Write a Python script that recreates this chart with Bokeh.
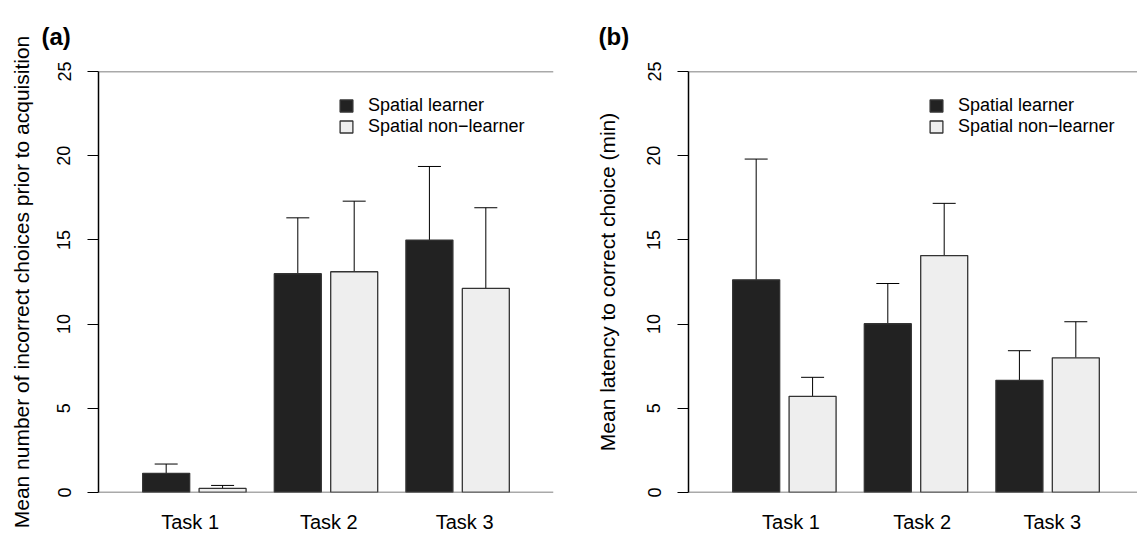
from bokeh.plotting import figure
from bokeh.models import (ColumnDataSource, Span, Whisker, TeeHead, Legend, LegendItem,
                          FixedTicker, Range1d, CustomJSTickFormatter)
from bokeh.layouts import row
from bokeh.embed import file_html
from bokeh.resources import INLINE

# ---- data -------------------------------------------------------------
tasks = ["Task 1", "Task 2", "Task 3"]
groups = ["Spatial learner", "Spatial non\u2212learner"]
y_ticks = [0, 5, 10, 15, 20, 25]

a_learner = [1.14, 12.99, 14.99]
a_learner_se = [0.55, 3.32, 4.37]
a_nonlearner = [0.24, 13.11, 12.12]
a_nonlearner_se = [0.18, 4.19, 4.79]

b_learner = [12.63, 10.02, 6.66]
b_learner_se = [7.17, 2.39, 1.76]
b_nonlearner = [5.71, 14.07, 8.00]
b_nonlearner_se = [1.13, 3.10, 2.14]

# positions of the task labels on the x scale (as drawn in the original)
a_label_pos = [1.61, 4.56, 7.45]
b_label_pos = [1.84, 4.63, 7.40]

a_ylab = "Mean number of incorrect choices prior to acquisition"
b_ylab = "Mean latency to correct choice (min)"

# ---- styling -----------------------------------------------------------
FONT = "Liberation Sans"
DARK = "#222222"
LIGHT = "#eeeeee"
EDGE = "#333333"

LEFT = 98
FRAME_W = 455
FRAME_H = 422
X0, X1 = -0.34, 9.34
TOP, BOTTOM = 71, 42
H = TOP + FRAME_H + BOTTOM


def panel(tag, learner, learner_se, nonlearner, nonlearner_se, label_pos, ylab,
          width, right_border, tag_dx, tick_standoff, ylab_standoff):
    fw = width - LEFT - right_border
    x_end = X0 + (X1 - X0) * fw / FRAME_W
    p = figure(width=width, height=H, output_backend="svg", toolbar_location=None,
               x_range=Range1d(X0, x_end), y_range=Range1d(0, 25),
               min_border_left=LEFT, min_border_right=right_border,
               min_border_top=TOP, min_border_bottom=BOTTOM)
    p.outline_line_color = None
    p.grid.visible = False

    # panel tag as title
    p.title.text = tag
    p.title.align = "left"
    p.title.vertical_align = "top"
    p.title.offset = tag_dx
    p.title.standoff = 40
    p.title.text_font = FONT
    p.title.text_font_size = "24px"
    p.title.text_font_style = "bold"
    p.title.text_color = "black"

    n = len(tasks)
    xl = [1.1 + 2.8 * i for i in range(n)]
    xn = [2.3 + 2.8 * i for i in range(n)]
    src_l = ColumnDataSource(dict(x=xl, top=learner,
                                  upper=[m + s for m, s in zip(learner, learner_se)]))
    src_n = ColumnDataSource(dict(x=xn, top=nonlearner,
                                  upper=[m + s for m, s in zip(nonlearner, nonlearner_se)]))

    for src in (src_l, src_n):
        p.add_layout(Whisker(source=src, base="x", lower="top", upper="upper",
                             dimension="height", line_color="black", line_width=1,
                             lower_head=None,
                             upper_head=TeeHead(size=23, line_color="black", line_width=1)))

    r1 = p.vbar(x="x", top="top", bottom=0, width=1, source=src_l,
                fill_color=DARK, line_color=EDGE, line_width=1.3)
    r2 = p.vbar(x="x", top="top", bottom=0, width=1, source=src_n,
                fill_color=LIGHT, line_color=EDGE, line_width=1.3)

    p.add_layout(Span(location=25, dimension="width", line_color="#555555", line_width=1.5))
    p.add_layout(Span(location=0, dimension="width", line_color="#555555", line_width=1.5))

    # y axis
    ax = p.yaxis[0]
    ax.ticker = FixedTicker(ticks=y_ticks)
    ax.major_label_orientation = "vertical"
    ax.major_label_text_font = FONT
    ax.major_label_text_font_size = "18px"
    ax.major_label_text_color = "black"
    ax.major_label_standoff = tick_standoff
    ax.major_tick_out = 11
    ax.major_tick_in = 0
    ax.minor_tick_line_color = None
    ax.major_tick_line_color = "black"
    ax.major_tick_line_width = 1.2
    ax.axis_line_color = "black"
    ax.axis_line_width = 1.5
    ax.axis_label = ylab
    ax.axis_label_text_font = FONT
    ax.axis_label_text_font_size = "21px"
    ax.axis_label_text_font_style = "normal"
    ax.axis_label_text_color = "black"
    ax.axis_label_standoff = ylab_standoff

    # x axis: task names under the groups
    xa = p.xaxis[0]
    xa.ticker = FixedTicker(ticks=label_pos)
    xa.formatter = CustomJSTickFormatter(args=dict(names=tasks), code="return names[index]")
    xa.axis_line_color = None
    xa.major_tick_line_color = None
    xa.minor_tick_line_color = None
    xa.major_tick_out = 0
    xa.major_tick_in = 0
    xa.major_label_standoff = 18
    xa.major_label_text_font = FONT
    xa.major_label_text_font_size = "20px"
    xa.major_label_text_color = "black"

    legend = Legend(items=[LegendItem(label=groups[0], renderers=[r1]),
                           LegendItem(label=groups[1], renderers=[r2])],
                    location=(240, 355), padding=0, margin=0, spacing=0,
                    glyph_width=16, glyph_height=15, label_standoff=14, label_height=21,
                    label_text_font=FONT, label_text_font_size="18px",
                    label_text_color="black",
                    border_line_color=None, background_fill_alpha=0)
    p.add_layout(legend)
    return p


pa = panel("(a)", a_learner, a_learner_se, a_nonlearner, a_nonlearner_se, a_label_pos,
           a_ylab, 590, 37, -57, 17, 22)
pb = panel("(b)", b_learner, b_learner_se, b_nonlearner, b_nonlearner_se, b_label_pos,
           b_ylab, 547, 0, -90, 17, 26)

layout = row(pa, pb)
open("out.html", "w").write(file_html(layout, INLINE))
